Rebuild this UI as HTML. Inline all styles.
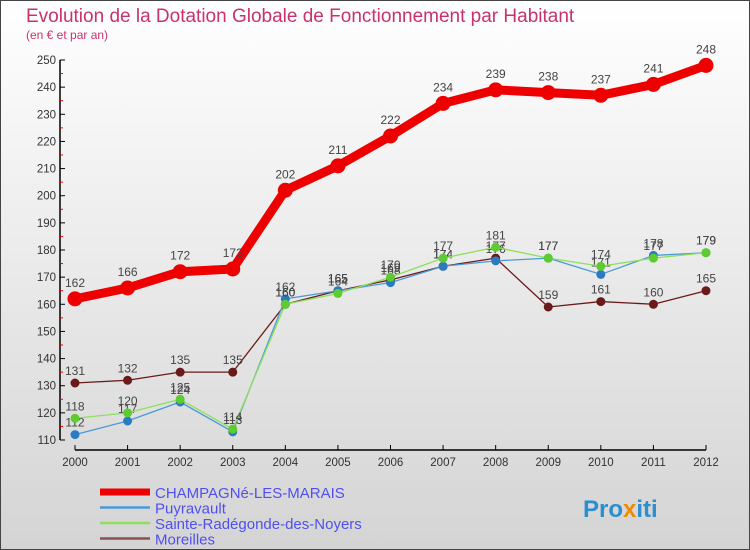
<!DOCTYPE html>
<html><head><meta charset="utf-8"><style>
body{margin:0}
svg{display:block;font-family:"Liberation Sans",sans-serif}
</style></head><body>
<svg id="c" width="750" height="550" xmlns="http://www.w3.org/2000/svg">
<defs><linearGradient id="bg" x1="0" y1="0" x2="0" y2="1"><stop offset="0" stop-color="#ffffff"/><stop offset="1" stop-color="#d4d4d4"/></linearGradient></defs>
<rect x="0.5" y="0.5" width="749" height="549" fill="url(#bg)" stroke="#444"/>
<text x="26" y="22" font-size="19" fill="#c8326e">Evolution de la Dotation Globale de Fonctionnement par Habitant</text>
<text x="26" y="39" font-size="12" fill="#c8326e">(en € et par an)</text>
<g id="axes"></g><g id="series"></g><g id="legend"></g>
<text x="583" y="517" font-size="24" font-weight="bold" fill="#2a8fd0">Pro<tspan fill="#f08a00">x</tspan>iti</text>
</svg>
<script>
const years=[2000,2001,2002,2003,2004,2005,2006,2007,2008,2009,2010,2011,2012];
const champagne=[162,166,172,173,202,211,222,234,239,238,237,241,248];
const puyravault=[112,117,124,113,162,165,168,174,176,177,171,178,179];
const sainte=[118,120,125,114,160,164,170,177,181,177,174,177,179];
const moreilles=[131,132,135,135,160,165,169,174,177,159,161,160,165];
const yTicks=[110,120,130,140,150,160,170,180,190,200,210,220,230,240,250];
const seriesNames=["CHAMPAGNé-LES-MARAIS","Puyravault","Sainte-Radégonde-des-Noyers","Moreilles"];
const NS="http://www.w3.org/2000/svg";
const xs=i=>75+i*(706-75)/(years.length-1);
const ys=v=>440-(v-110)*(380/140);
function mk(tag,attrs,parent){const e=document.createElementNS(NS,tag);for(const k in attrs)e.setAttribute(k,attrs[k]);parent.appendChild(e);return e;}
const ax=document.getElementById('axes');
let yl=mk('line',{x1:60,y1:ys(250),x2:60,y2:ys(110),stroke:'#000','stroke-width':1.5},ax);


yTicks.forEach(t=>{
  const y=ys(t);
  let tk=mk('line',{x1:60,y1:y,x2:65,y2:y,stroke:'#000'},ax);
  
  
  let mn=mk('line',{x1:60,y1:y+13.57,x2:63,y2:y+13.57,stroke:'#e00'},ax);
  if(t===110)mn.setAttribute('visibility','hidden');
  
  
  let tx=mk('text',{x:56,y:y+4,'font-size':11.5,fill:'#333','text-anchor':'end'},ax);
  tx.textContent=t;
  
  
});
let xl=mk('line',{x1:xs(0),y1:450,x2:xs(12),y2:450,stroke:'#000','stroke-width':1.5},ax);


years.forEach((yr,i)=>{
  let tk=mk('line',{x1:xs(i),y1:445,x2:xs(i),y2:450,stroke:'#000'},ax);
  
  
  let tx=mk('text',{x:xs(i),y:466,'font-size':11.5,fill:'#333','text-anchor':'middle'},ax);
  tx.textContent=yr;
  
  
});
const sg=document.getElementById('series');
const defs=[
 {d:moreilles,c:'#6b1a1a',w:1.3,r:4.5,lc:'#6b1a1a',n:'moreilles'},
 {d:puyravault,c:'#4a9ad8',w:1.3,r:4.5,lc:'#2a7bc0',n:'puyravault'},
 {d:sainte,c:'#8ee05a',w:1.3,r:4.5,lc:'#5ccc30',n:'sainte-radegonde'},
 {d:champagne,c:'#ee0000',w:9,r:7.5,lc:'#ee0000',n:'champagne'}];
defs.forEach(s=>{
  let p=mk('polyline',{points:s.d.map((v,i)=>xs(i)+','+ys(v)).join(' '),fill:'none',stroke:s.c,'stroke-width':s.w,'stroke-linejoin':'round'},sg);
  
  
  s.d.forEach((v,i)=>{
    let c=mk('circle',{cx:xs(i),cy:ys(v),r:s.r,fill:s.lc},sg);
    
    
    let t=mk('text',{x:xs(i),y:ys(v)-(s.w>5?12:8),'font-size':12,fill:'#444','text-anchor':'middle'},sg);
    t.textContent=v;
    
    
  });
});
const lg=document.getElementById('legend');
const lcols=['#ee0000','#4a9ad8','#8ee05a','#8b5050'];
const lw=[7,2.5,2.5,2.5];
seriesNames.forEach((n,i)=>{
  const y=492+i*15.5;
  let l=mk('line',{x1:100,y1:y,x2:150,y2:y,stroke:lcols[i],'stroke-width':lw[i]},lg);
  
  
  let t=mk('text',{x:155,y:y+6,'font-size':15,fill:'#5050ee'},lg);
  t.textContent=n;
  
  
});
</script>
</body></html>
